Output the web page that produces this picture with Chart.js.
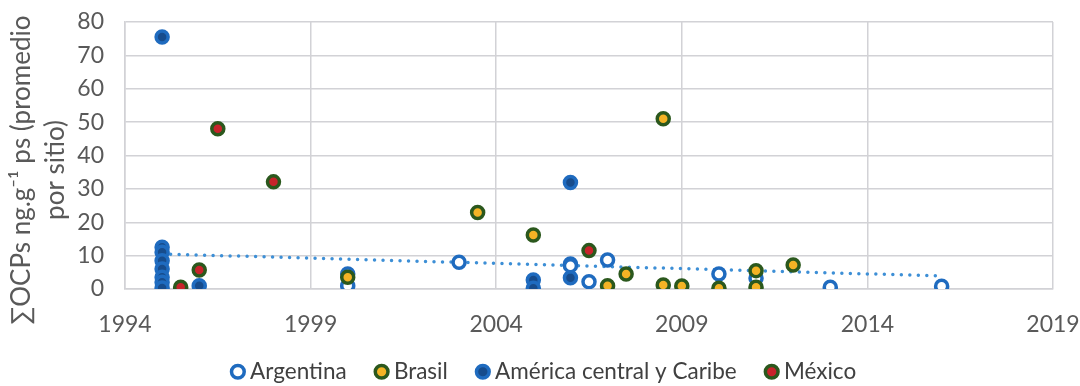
<!DOCTYPE html>
<html lang="es">
<head>
<meta charset="utf-8">
<title>ΣOCPs por sitio</title>
<script src="https://cdn.jsdelivr.net/npm/chart.js@4.4.1/dist/chart.umd.min.js"></script>
<style>
  html, body { margin: 0; padding: 0; background: #ffffff; }
  #wrap { position: relative; width: 1080px; height: 386px; }
</style>
</head>
<body>
<div id="wrap"><canvas id="chart"></canvas></div>
<script>
// Sampling years and mean ΣOCPs per site (ng·g⁻¹ dry weight), by region
const argentinaYears  = [2000, 2000, 2003, 2006, 2006.5, 2007, 2010, 2011, 2013, 2016];
const argentinaValues = [1.0, 4.5, 8.0, 7.0, 2.2, 8.7, 4.5, 3.2, 0.5, 0.8];

const brasilYears  = [2000, 2003.5, 2005, 2007, 2007.5, 2008.5, 2008.5, 2009, 2010, 2011, 2011, 2012];
const brasilValues = [3.5, 22.9, 16.2, 1.0, 4.5, 51.0, 1.2, 0.9, 0.2, 5.5, 0.5, 7.2];

const americaYears  = [1995, 1995, 1995, 1995, 1995, 1995, 1995, 1995, 1996, 2005, 2005, 2006, 2006, 2006];
const americaValues = [75.5, 12.5, 11.0, 8.5, 6.0, 3.5, 2.0, 0.3, 1.0, 2.7, 0.2, 31.9, 7.5, 3.4];

const mexicoYears  = [1995.5, 1996, 1996.5, 1998, 2006.5];
const mexicoValues = [0.5, 5.7, 48.0, 32.1, 11.5];

// Linear trend across the whole period
const trendYears  = [1995, 2016];
const trendValues = [10.5, 3.9];

// Axis ticks
const yearTicks  = [1994, 1999, 2004, 2009, 2014, 2019];
const valueTicks = [0, 10, 20, 30, 40, 50, 60, 70, 80];

const seriesNames = ['Argentina', 'Brasil', 'América central y Caribe', 'México'];
const yTitleLines = ['∑OCPs ng.g⁻¹ ps (promedio', 'por sitio)'];

const toPoints = (xs, ys) => xs.map((x, i) => ({ x: x, y: ys[i] }));

const BLUE_RING = '#1f6bbf';
const NAVY = '#174c8c';
const GREEN_RING = '#2b581d';
const GOLD = '#f4b325';
const RED = '#c8232b';
const TREND = '#3d8fd6';
const GRID = '#d2d2d6';
const FONT = 'Lato, "Open Sans", "Liberation Sans", sans-serif';

const markerBase = { pointStyle: 'circle', pointRadius: 6, pointHoverRadius: 6, pointBorderWidth: 3.5, borderWidth: 3.5 };

// Rotated two-line title on the left of the value axis
const yTitlePlugin = {
  id: 'yTitle',
  afterDraw(chart) {
    const ctx = chart.ctx;
    ctx.save();
    ctx.fillStyle = '#595959';
    ctx.font = '26px ' + FONT;
    ctx.textAlign = 'center';
    ctx.textBaseline = 'middle';
    const xs = [22, 56];
    const cy = 170;
    yTitleLines.forEach((line, i) => {
      ctx.save();
      ctx.translate(xs[i], cy);
      ctx.rotate(-Math.PI / 2);
      ctx.fillText(line, 0, 0);
      ctx.restore();
    });
    ctx.restore();
  }
};

// Pull the legend row up under the year labels and nudge it right
const legendOffsetPlugin = {
  id: 'legendOffset',
  afterLayout(chart) {
    const lg = chart.legend;
    if (!lg) return;
    const dy = -12.5, dx = 20;
    lg.top += dy;
    lg.bottom = chart.height;
    lg.height = lg.bottom - lg.top;
    lg.left += dx; lg.right += dx;
  }
};

new Chart(document.getElementById('chart'), {
  type: 'scatter',
  data: {
    datasets: [
      Object.assign({
        label: seriesNames[0],
        data: toPoints(argentinaYears, argentinaValues),
        backgroundColor: '#ffffff',
        borderColor: BLUE_RING,
        order: 2
      }, markerBase),
      Object.assign({
        label: seriesNames[1],
        data: toPoints(brasilYears, brasilValues),
        backgroundColor: GOLD,
        borderColor: GREEN_RING,
        order: 0
      }, markerBase),
      Object.assign({
        label: seriesNames[2],
        data: toPoints(americaYears, americaValues),
        backgroundColor: NAVY,
        borderColor: BLUE_RING,
        order: 3
      }, markerBase),
      Object.assign({
        label: seriesNames[3],
        data: toPoints(mexicoYears, mexicoValues),
        backgroundColor: RED,
        borderColor: GREEN_RING,
        order: 1
      }, markerBase),
      {
        type: 'line',
        label: 'tendencia',
        data: toPoints(trendYears, trendValues),
        borderColor: TREND,
        borderWidth: 3.5,
        borderDash: [0, 8.5],
        borderCapStyle: 'round',
        pointRadius: 0,
        fill: false,
        order: 4
      }
    ]
  },
  options: {
    responsive: true,
    maintainAspectRatio: false,
    animation: false,
    events: [],
    layout: { autoPadding: false, padding: { left: 0, top: 22, right: 27, bottom: 0 } },
    scales: {
      x: {
        type: 'linear',
        min: yearTicks[0],
        max: yearTicks[yearTicks.length - 1],
        afterBuildTicks(scale) { scale.ticks = yearTicks.map(v => ({ value: v })); },
        afterFit(scale) {
          scale.height = 50;
          scale.paddingLeft = 0;
          scale.paddingRight = 0;
        },
        grid: { color: GRID, lineWidth: 1.5, drawTicks: false },
        border: { color: GRID, width: 1.5 },
        ticks: {
          padding: 22,
          color: '#595959',
          font: { family: FONT, size: 23 },
          maxRotation: 0,
          callback: v => String(v)
        }
      },
      y: {
        type: 'linear',
        min: valueTicks[0],
        max: valueTicks[valueTicks.length - 1],
        afterBuildTicks(scale) { scale.ticks = valueTicks.map(v => ({ value: v })); },
        afterFit(scale) {
          scale.width = 125;
          scale.paddingTop = 0;
          scale.paddingBottom = 0;
        },
        grid: { color: GRID, lineWidth: 1.5, drawTicks: false },
        border: { color: GRID, width: 1.5 },
        ticks: {
          padding: 21,
          color: '#595959',
          font: { family: FONT, size: 23 },
          callback: v => String(v)
        }
      }
    },
    plugins: {
      tooltip: { enabled: false },
      legend: {
        position: 'bottom',
        maxHeight: 47,
        labels: {
          usePointStyle: true,
          boxWidth: 2,
          boxHeight: 9,
          padding: 34,
          color: '#404040',
          font: { family: FONT, size: 22.5 },
          filter: item => item.datasetIndex < 4,
          sort: (a, b) => a.datasetIndex - b.datasetIndex
        }
      }
    }
  },
  plugins: [yTitlePlugin, legendOffsetPlugin]
});
</script>
</body>
</html>
